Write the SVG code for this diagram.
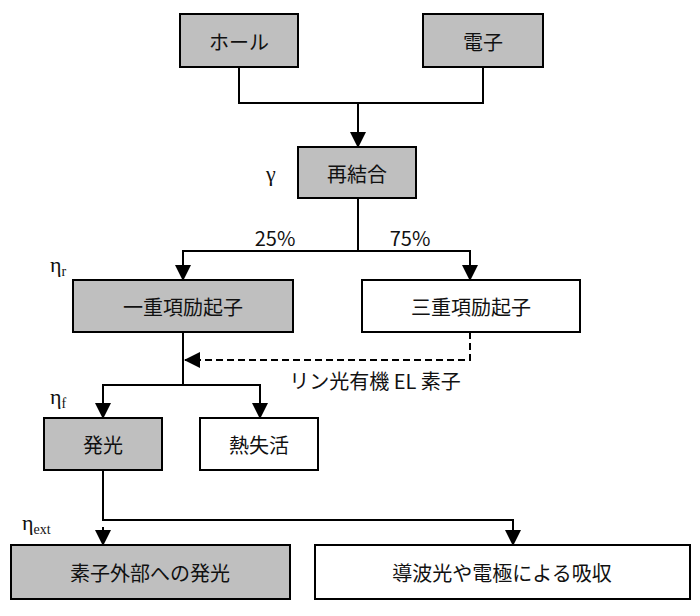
<svg xmlns="http://www.w3.org/2000/svg" width="700" height="616" viewBox="0 0 700 616">
<style>
.g{fill:#bfbfbf;stroke:#000;stroke-width:2}
.w{fill:#fff;stroke:#000;stroke-width:2}
text{font-family:"Noto Sans CJK JP","Noto Sans",sans-serif;font-size:20px;fill:#111}
.c{text-anchor:middle;dominant-baseline:central}
.l{fill:none;stroke:#000;stroke-width:2}
.gr{font-family:"Liberation Serif",serif;font-size:22px}
</style>
<defs><marker id="b" markerWidth="16" markerHeight="16" refX="15" refY="8" orient="auto" markerUnits="userSpaceOnUse"><path d="M0,0 L16,8 L0,16Z" fill="#000"/></marker></defs>
<rect width="700" height="616" fill="#fff"/>
<g id="connectors">
<path class="l" d="M239,67V103H483V67"/>
<path class="l" d="M358,103V147" marker-end="url(#b)"/>
<path class="l" d="M358,198V251"/>
<path class="l" d="M183,280V251H470V280" />
<path class="l" d="M183,262V280" marker-end="url(#b)"/>
<path class="l" d="M470,262V280" marker-end="url(#b)"/>
<path class="l" d="M470,332V360H185" stroke-dasharray="7,4" marker-end="url(#b)"/>
<path class="l" d="M183,332V385"/>
<path class="l" d="M103,418V385H260V418"/>
<path class="l" d="M103,400V418" marker-end="url(#b)"/>
<path class="l" d="M260,400V418" marker-end="url(#b)"/>
<path class="l" d="M103,470V520H513V545"/>
<path class="l" d="M103,527V545" marker-end="url(#b)"/>
<path class="l" d="M513,527V545" marker-end="url(#b)"/>
<text x="275" y="237" class="c">25%</text>
<text x="410" y="237" class="c">75%</text>
<text x="375" y="380" class="c">リン光有機 EL 素子</text>
</g>
<g id="n1"><rect class="g" x="180" y="14" width="118" height="53"/><text x="239" y="41" class="c">ホール</text></g>
<g id="n2"><rect class="g" x="423" y="14" width="120" height="53"/><text x="483" y="41" class="c">電子</text></g>
<g id="n3"><rect class="g" x="298" y="147" width="118" height="51"/><text x="357" y="173" class="c">再結合</text></g>
<g id="n4"><rect class="g" x="73" y="280" width="220" height="52"/><text x="183" y="306" class="c">一重項励起子</text></g>
<g id="n5"><rect class="w" x="362" y="280" width="218" height="52"/><text x="471" y="306" class="c">三重項励起子</text></g>
<g id="n6"><rect class="g" x="44" y="418" width="118" height="52"/><text x="103" y="444" class="c">発光</text></g>
<g id="n7"><rect class="w" x="200" y="418" width="118" height="52"/><text x="259" y="444" class="c">熱失活</text></g>
<g id="n8"><rect class="g" x="11" y="545" width="279" height="54"/><text x="150" y="572" class="c">素子外部への発光</text></g>
<g id="n9"><rect class="w" x="315" y="545" width="375" height="54"/><text x="502" y="572" class="c">導波光や電極による吸収</text></g>
<text x="266" y="181" class="gr">γ</text>
<text x="50" y="272" class="gr">η<tspan font-size="14" dy="4">r</tspan></text>
<text x="50" y="404" class="gr">η<tspan font-size="14" dy="4">f</tspan></text>
<text x="22" y="530" class="gr">η<tspan font-size="14" dy="4">ext</tspan></text>
</svg>
